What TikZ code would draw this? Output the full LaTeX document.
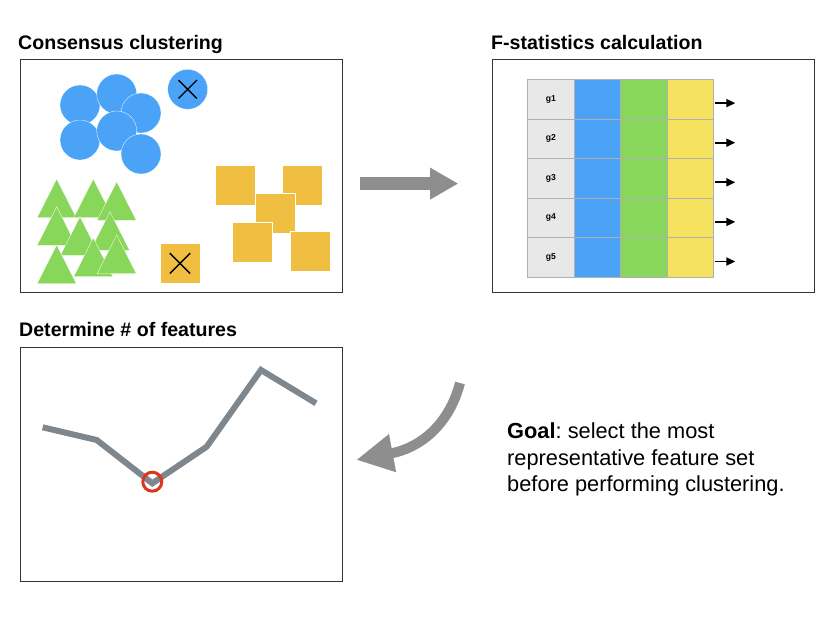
\documentclass[tikz,border=0pt]{standalone}
\usepackage{fontspec}
\setmainfont{Liberation Sans}
\usetikzlibrary{arrows.meta,positioning,shapes.misc}
\definecolor{dotblue}{HTML}{4BA3F8}
\definecolor{leafgreen}{HTML}{88D65A}
\definecolor{boxorange}{HTML}{F0BE41}
\definecolor{cellyellow}{HTML}{F5E25E}
\definecolor{cellgray}{HTML}{E8E8E8}
\definecolor{cellline}{HTML}{B0B0B0}
\definecolor{arrowgray}{HTML}{8E8E8E}
\definecolor{curvegray}{HTML}{7E868E}
\definecolor{pickred}{HTML}{D9381E}
\frenchspacing

\begin{document}
\begin{tikzpicture}[x=1pt,y=-1pt,
        panel/.style={draw=black!80,line width=1.2pt,minimum width=322pt,minimum height=233pt,anchor=north west,inner sep=0pt},
        paneltitle/.style={anchor=base west,inner sep=0pt,font=\fontsize{19.6}{23}\selectfont\bfseries},
        cell/.style={draw=cellline,line width=0.8pt,minimum height=39.6pt,inner sep=0pt,outer sep=0pt},
        genecell/.style={cell,fill=cellgray,minimum width=46.6pt,font=\fontsize{8.6}{10}\selectfont\bfseries},
        crossmark/.style={cross out,draw=black,line width=1.4pt,inner sep=0pt},
        blob/.style={draw=white,line width=0.3pt},
        bigarrow/.style={arrowgray,line width=12.6pt,-{Triangle[length=28.3pt,width=30pt]}},
        bentarrow/.style={arrowgray,line width=10pt,-{Triangle[length=37pt,width=36pt]}},
        rowarrow/.style={line width=1.8pt,-{Triangle[length=9pt,width=8pt]}}]
    \useasboundingbox (0,0) rectangle (840,616);

    \node[panel] (clust) at (20,59) {};
    \node[panel] (fstat) at (492,59) {};
    \node[panel,minimum height=234pt] (nfeat) at (20,347) {};
    \node[paneltitle] (clusttitle) at (18,49) {Consensus clustering};
    \node[paneltitle] (fstattitle) at (491,49) {F-statistics calculation};
    \node[paneltitle] (nfeattitle) at (19,336) {Determine \# of features};

    \foreach \x/\y in {80/105,116.7/94,141/113,80/140,116.7/131,141/154,187.7/89.3}
        \filldraw[blob,fill=dotblue] (\x,\y) circle[radius=20];
    \node[crossmark,minimum size=17pt] (outdot) at (187.7,89.3) {};

    \foreach \x/\y in {56.7/179,93.3/179,116.7/181.7,56.7/206.7,80/216.7,110/211.7,56.7/245,93.3/238,116.7/235}
        \filldraw[blob,fill=leafgreen] (\x,\y) -- ++(19.6,38.7) -- ++(-39.2,0) -- cycle;

    \foreach \x/\y in {215/165,282.3/165,255/192.7,231.7/221.7,290/230.7,160/243.3}
        \filldraw[blob,fill=boxorange] (\x,\y) rectangle ++(40,40);
    \node[crossmark,minimum size=19pt] (outbox) at (180,263.3) {};

    \foreach \i in {1,...,5}{
        \node[genecell,anchor=north west] (g\i) at (527.7,{79.3+39.6*(\i-1)}) {g\i};
        \node[cell,fill=dotblue,minimum width=45.7pt,right=0pt of g\i] (b\i) {};
        \node[cell,fill=leafgreen,minimum width=47.3pt,right=0pt of b\i] (v\i) {};
        \node[cell,fill=cellyellow,minimum width=46pt,right=0pt of v\i] (y\i) {};
        \coordinate (out\i) at ([shift={(22,4)}]y\i.east);
        \draw[rowarrow] ([shift={(2,4)}]y\i.east) -- (out\i);
    }

    \draw[bigarrow] ([xshift=17pt,yshift=-7.5pt]clust.east) -- ([xshift=-33.7pt,yshift=-7.5pt]fstat.west);

    \coordinate (p1) at (42.7,427.3);
    \coordinate (p2) at (96.7,440);
    \coordinate (p3) at (152.3,483.3);
    \coordinate (p4) at (206.7,446.7);
    \coordinate (p5) at (261,370);
    \coordinate (p6) at (316,403.3);
    \draw[curvegray,line width=6pt] (p1) -- (p2) -- (p3) -- (p4) -- (p5) -- (p6);
    \node[circle,draw=pickred,line width=3pt,minimum size=19pt,inner sep=0pt] (best) at (152.3,481.7) {};

    \coordinate (bendstart) at (460,383);
    \draw[bentarrow] (bendstart) .. controls (449,425) and (420,448) .. ([xshift=13pt,yshift=4.7pt]nfeat.east);

    \node[anchor=north west,align=left,inner sep=0pt,font=\fontsize{21.8}{26.7}\selectfont] (goal) at (507,422.5)
        {\textbf{Goal}: select the most\\representative feature set\\before performing clustering.};
\end{tikzpicture}
\end{document}
